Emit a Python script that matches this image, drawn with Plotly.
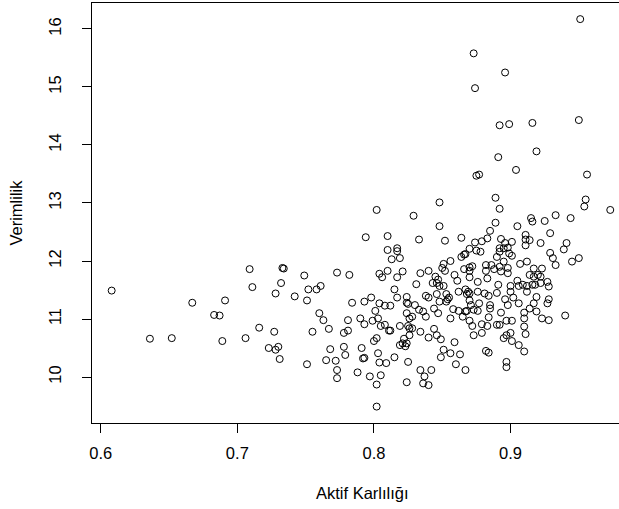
import plotly.graph_objects as go

# Aktif Karlılığı (x) and Verimlilik (y)
aktif_karlilik = [
    0.608, 0.636, 0.652, 0.667, 0.683, 0.687, 0.691, 0.689, 0.706, 0.709,
    0.711, 0.716, 0.723, 0.727, 0.728, 0.730, 0.731, 0.728, 0.732, 0.733,
    0.734, 0.742, 0.749, 0.751, 0.752, 0.751, 0.773, 0.782, 0.804, 0.806,
    0.810, 0.821, 0.817, 0.758, 0.761, 0.784, 0.793, 0.798, 0.804, 0.808,
    0.812, 0.801, 0.815, 0.817, 0.824, 0.824, 0.825, 0.760, 0.763, 0.755,
    0.767, 0.778, 0.781, 0.781, 0.790, 0.793, 0.799, 0.803, 0.805, 0.808,
    0.811, 0.812, 0.819, 0.825, 0.800, 0.802, 0.768, 0.778, 0.779, 0.791,
    0.765, 0.772, 0.773, 0.773, 0.788, 0.792, 0.793, 0.797, 0.803, 0.804,
    0.809, 0.805, 0.802, 0.802, 0.815, 0.824, 0.822, 0.819, 0.821, 0.823,
    0.824, 0.826, 0.825, 0.802, 0.794, 0.810, 0.810, 0.817, 0.817, 0.813,
    0.819, 0.951, 0.873, 0.896, 0.874, 0.892, 0.899, 0.916, 0.950, 0.891,
    0.919, 0.904, 0.875, 0.877, 0.956, 0.889, 0.955, 0.848, 0.892, 0.829,
    0.848, 0.889, 0.885, 0.833, 0.852, 0.864, 0.874, 0.879, 0.883, 0.893,
    0.896, 0.892, 0.895, 0.898, 0.870, 0.875, 0.878, 0.866, 0.864, 0.867,
    0.856, 0.851, 0.850, 0.892, 0.899, 0.901, 0.890, 0.895, 0.898, 0.907,
    0.912, 0.917, 0.923, 0.954, 0.973, 0.915, 0.916, 0.925, 0.933, 0.944,
    0.905, 0.929, 0.911, 0.911, 0.914, 0.911, 0.901, 0.922, 0.941, 0.939,
    0.929, 0.931, 0.933, 0.950, 0.945, 0.927, 0.928, 0.914, 0.917, 0.920,
    0.922, 0.905, 0.906, 0.900, 0.900, 0.909, 0.912, 0.916, 0.918, 0.922,
    0.912, 0.919, 0.902, 0.896, 0.906, 0.898, 0.917, 0.928, 0.927, 0.914,
    0.919, 0.910, 0.910, 0.901, 0.923, 0.928, 0.940, 0.910, 0.911, 0.900,
    0.901, 0.906, 0.910, 0.882, 0.882, 0.886, 0.888, 0.892, 0.893, 0.898,
    0.834, 0.840, 0.852, 0.866, 0.870, 0.870, 0.872, 0.831, 0.845, 0.847,
    0.846, 0.848, 0.843, 0.851, 0.859, 0.861, 0.870, 0.876, 0.883, 0.891,
    0.830, 0.838, 0.840, 0.846, 0.853, 0.854, 0.855, 0.853, 0.848, 0.862,
    0.867, 0.869, 0.870, 0.868, 0.876, 0.881, 0.884, 0.890, 0.877, 0.885,
    0.885, 0.870, 0.871, 0.824, 0.826, 0.828, 0.833, 0.836, 0.838, 0.844,
    0.847, 0.856, 0.858, 0.862, 0.865, 0.867, 0.868, 0.873, 0.876, 0.870,
    0.884, 0.893, 0.897, 0.826, 0.828, 0.834, 0.844, 0.846, 0.849, 0.840,
    0.859, 0.872, 0.873, 0.879, 0.883, 0.890, 0.892, 0.879, 0.895, 0.897,
    0.851, 0.849, 0.856, 0.863, 0.882, 0.884, 0.860, 0.867, 0.834, 0.842,
    0.837, 0.836, 0.840, 0.897, 0.897,
]

verimlilik = [
    11.49, 10.66, 10.67, 11.28, 11.07, 11.06, 11.32, 10.62, 10.67, 11.86,
    11.55, 10.85, 10.50, 10.78, 10.47, 10.52, 10.31, 11.44, 11.62, 11.88,
    11.87, 11.39, 11.75, 11.32, 11.51, 10.22, 11.80, 11.76, 11.78, 11.72,
    11.83, 11.82, 11.72, 11.51, 11.57, 11.28, 11.30, 11.37, 11.27, 11.23,
    11.23, 11.14, 11.51, 11.37, 11.38, 11.28, 11.26, 11.10, 10.98, 10.78,
    10.83, 10.76, 10.80, 10.98, 11.01, 10.91, 10.97, 11.01, 10.88, 10.90,
    10.80, 10.80, 10.88, 10.88, 10.62, 10.67, 10.48, 10.52, 10.38, 10.50,
    10.29, 10.28, 10.12, 9.98, 10.08, 10.32, 10.33, 10.01, 10.41, 10.25,
    10.24, 10.03, 9.87, 9.49, 10.34, 9.91, 10.66, 10.55, 10.58, 10.53,
    10.58, 10.72, 10.26, 12.88, 12.41, 12.43, 12.19, 12.22, 12.17, 12.03,
    12.05, 16.17, 15.58, 15.25, 14.98, 14.34, 14.36, 14.38, 14.43, 13.79,
    13.89, 13.57, 13.47, 13.49, 13.49, 13.09, 13.06, 13.01, 12.90, 12.78,
    12.60, 12.66, 12.52, 12.37, 12.35, 12.40, 12.32, 12.34, 12.39, 12.38,
    12.31, 12.22, 12.22, 12.23, 12.21, 12.18, 12.16, 12.11, 12.07, 12.12,
    12.00, 11.95, 11.88, 12.16, 12.13, 12.09, 12.07, 11.99, 11.88, 11.95,
    11.99, 11.87, 11.87, 12.94, 12.88, 12.74, 12.68, 12.69, 12.79, 12.74,
    12.60, 12.48, 12.45, 12.37, 12.36, 12.27, 12.33, 12.31, 12.31, 12.20,
    12.14, 12.05, 11.93, 12.05, 11.99, 11.64, 11.56, 11.76, 11.73, 11.76,
    11.73, 11.66, 11.57, 11.57, 11.47, 11.59, 11.57, 11.59, 11.59, 11.62,
    11.47, 11.38, 11.37, 11.34, 11.27, 11.24, 11.27, 11.34, 11.27, 11.18,
    11.13, 11.11, 11.01, 10.97, 11.01, 10.98, 11.06, 10.87, 10.74, 10.76,
    10.62, 10.55, 10.44, 11.93, 11.83, 11.93, 11.86, 11.90, 11.82, 11.79,
    11.79, 11.83, 11.83, 11.86, 11.89, 11.83, 11.91, 11.60, 11.73, 11.68,
    11.62, 11.57, 11.62, 11.57, 11.76, 11.66, 11.72, 11.64, 11.70, 11.59,
    11.24, 11.40, 11.37, 11.43, 11.43, 11.34, 11.37, 11.30, 11.30, 11.47,
    11.51, 11.47, 11.44, 11.43, 11.47, 11.44, 11.40, 11.45, 11.27, 11.24,
    11.18, 11.32, 11.24, 11.10, 11.01, 11.04, 11.16, 11.13, 11.04, 11.18,
    11.10, 11.01, 11.17, 11.14, 11.04, 11.13, 11.14, 11.16, 11.14, 10.97,
    11.03, 11.11, 10.97, 10.84, 10.84, 10.78, 10.83, 10.72, 10.65, 10.68,
    10.60, 10.88, 10.72, 10.91, 10.88, 10.90, 10.90, 10.76, 10.67, 10.72,
    10.47, 10.34, 10.41, 10.39, 10.45, 10.42, 10.22, 10.12, 10.12, 10.12,
    10.01, 9.89, 9.86, 10.26, 10.17,
]

x_ticks = [0.6, 0.7, 0.8, 0.9]
x_tick_labels = ["0.6", "0.7", "0.8", "0.9"]
y_ticks = [10, 11, 12, 13, 14, 15, 16]
y_tick_labels = ["10", "11", "12", "13", "14", "15", "16"]

x_title = "Aktif Karlılığı"
y_title = "Verimlilik"

FONT = "Liberation Sans, Arial, Helvetica, sans-serif"
FS = 16.5

fig = go.Figure(
    go.Scatter(
        x=aktif_karlilik,
        y=verimlilik,
        mode="markers",
        marker=dict(symbol="circle-open", size=7, color="black",
                    line=dict(width=1, color="black")),
        hoverinfo="x+y",
    )
)

fig.update_layout(
    width=619,
    height=509,
    margin=dict(l=92, r=0, t=3, b=86, autoexpand=False),
    paper_bgcolor="white",
    plot_bgcolor="white",
    showlegend=False,
    font=dict(family=FONT, size=FS, color="black"),
    xaxis=dict(
        range=[0.5936, 0.9794],
        automargin=False,
        tickmode="array",
        tickvals=x_ticks,
        ticktext=x_tick_labels,
        ticks="outside",
        ticklen=9,
        tickwidth=1,
        tickcolor="black",
        showline=True,
        linecolor="black",
        linewidth=1,
        mirror=True,
        showgrid=False,
        zeroline=False,
        tickfont=dict(family=FONT, size=FS, color="black"),
        ticklabelstandoff=6,
    ),
    yaxis=dict(
        range=[9.207, 16.448],
        automargin=False,
        tickmode="array",
        tickvals=y_ticks,
        ticktext=y_tick_labels,
        tickangle=-90,
        ticks="outside",
        ticklen=9,
        tickwidth=1,
        tickcolor="black",
        showline=True,
        linecolor="black",
        linewidth=1,
        showgrid=False,
        zeroline=False,
        tickfont=dict(family=FONT, size=FS, color="black"),
        ticklabelstandoff=14,
    ),
    annotations=[
        dict(text=x_title, xref="paper", yref="paper", x=0.514, y=-0.1667,
             xanchor="center", yanchor="middle", showarrow=False,
             font=dict(family=FONT, size=FS, color="black")),
        dict(text=y_title, xref="paper", yref="paper", x=-0.145, y=0.5,
             xanchor="center", yanchor="middle", textangle=-90, showarrow=False,
             font=dict(family=FONT, size=FS, color="black")),
    ],
)

fig.write_html(
    "out.html",
    config={"displayModeBar": False},
    post_script="document.body.style.margin='0';document.body.style.overflow='hidden';",
)
